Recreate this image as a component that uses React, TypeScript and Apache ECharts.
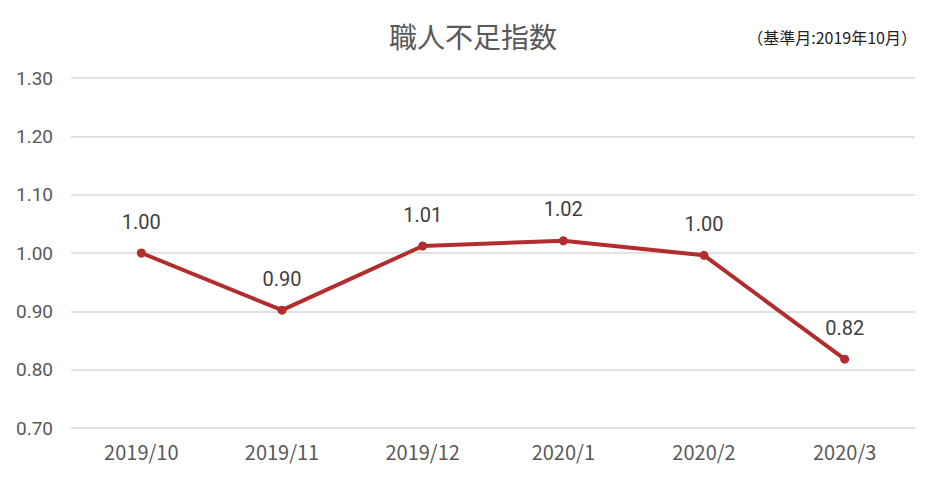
import React, { useEffect, useRef } from "react";
import * as echarts from "echarts";

const categories = ["2019/10", "2019/11", "2019/12", "2020/1", "2020/2", "2020/3"];
const values = [1.0, 0.902, 1.012, 1.021, 0.996, 0.818];
const titleText = "職人不足指数";
const noteText = "（基準月:2019年10月）";

export default function App() {
  const ref = useRef<HTMLDivElement>(null);
  useEffect(() => {
    const chart = echarts.init(ref.current!, null, { renderer: "svg" });
    chart.setOption({
      animation: false,
      backgroundColor: "#ffffff",
      title: [
        {
          text: titleText,
          left: 468,
          textAlign: "center",
          top: 17,
          textStyle: { fontSize: 28, fontWeight: "normal", color: "#595959", fontFamily: "Noto Sans CJK JP" },
        },
        {
          text: noteText,
          right: 16,
          top: 24,
          textStyle: { fontSize: 16, fontWeight: "normal", color: "#222", fontFamily: "Noto Sans CJK JP" },
        },
      ],
      grid: { left: 71, right: 23, top: 78, bottom: 49 },
      xAxis: {
        type: "category",
        data: categories,
        axisLine: { show: false },
        axisTick: { show: false },
        axisLabel: { color: "#595959", fontSize: 20, margin: 13, fontFamily: "Noto Sans CJK JP" },
      },
      yAxis: {
        type: "value",
        min: 0.7,
        max: 1.3,
        interval: 0.1,
        axisLine: { show: false },
        axisTick: { show: false },
        splitLine: { lineStyle: { color: "#d9d9d9", width: 1.5 } },
        axisLabel: {
          color: "#595959",
          fontSize: 19,
          margin: 18,
          fontFamily: "Roboto",
          formatter: (v: number) => v.toFixed(2),
        },
      },
      series: [
        {
          type: "line",
          data: values,
          symbol: "circle",
          symbolSize: 9,
          lineStyle: { color: "#b22e2e", width: 4 },
          itemStyle: { color: "#b22e2e" },
          label: {
            show: true,
            position: "top",
            distance: 17,
            color: "#404040",
            fontSize: 20,
            fontFamily: "Roboto",
            fontWeight: "normal",
            formatter: (p: any) => Number(p.value).toFixed(2),
          },
        },
      ],
    });
    return () => chart.dispose();
  }, []);
  return <div ref={ref} style={{ width: 938, height: 477, position: "absolute", left: 0, top: 0 }} />;
}
